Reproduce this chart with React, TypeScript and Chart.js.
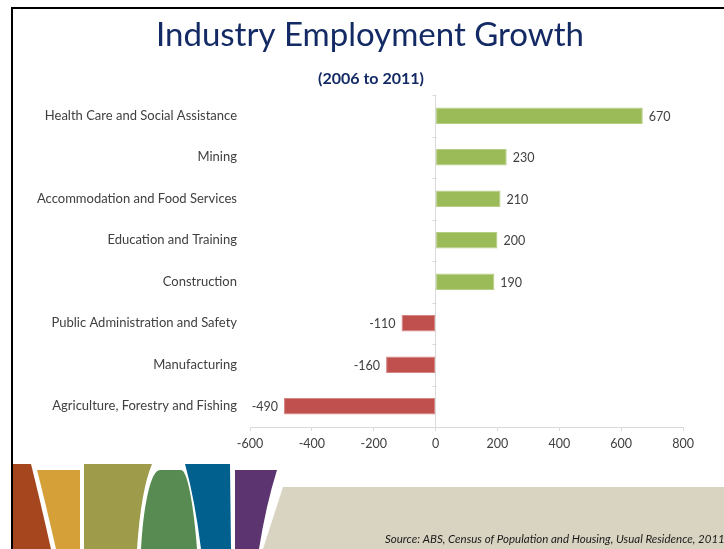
import React, { useEffect, useRef } from "react";
import { Chart, registerables } from "chart.js";

Chart.register(...registerables);

const categories = [
  "Health Care and Social Assistance",
  "Mining",
  "Accommodation and Food Services",
  "Education and Training",
  "Construction",
  "Public Administration and Safety",
  "Manufacturing",
  "Agriculture, Forestry and Fishing",
];
const growth = [670, 230, 210, 200, 190, -110, -160, -490];
const xMin = -600;
const xMax = 800;
const xStep = 200;

const titleText = "Industry Employment Growth";
const subtitleText = "(2006 to 2011)";
const sourceText = "Source: ABS, Census of Population and Housing, Usual Residence, 2011";

const POS = "#9BBB59";
const POS_B = "#B5CD85";
const NEG = "#C0504D";
const NEG_B = "#D48684";
const AXIS = "#D9D9D9";
const TXT = "#404040";
const NAVY = "#132A64";
const FONT = "Lato, 'Open Sans', sans-serif";

function drawDecor(ctx: CanvasRenderingContext2D, W: number, H: number) {
  ctx.save();
  ctx.fillStyle = "#ffffff";
  ctx.fillRect(0, 0, W, H);

  // beige band
  ctx.fillStyle = "#D9D3C1";
  ctx.beginPath();
  ctx.moveTo(283, 487);
  ctx.lineTo(W, 487);
  ctx.lineTo(W, H);
  ctx.lineTo(263, H);
  ctx.closePath();
  ctx.fill();

  // brown
  ctx.fillStyle = "#A5461F";
  ctx.beginPath();
  ctx.moveTo(13, 464);
  ctx.lineTo(31, 464);
  ctx.quadraticCurveTo(40, 500, 51, H);
  ctx.lineTo(13, H);
  ctx.closePath();
  ctx.fill();

  // orange
  ctx.fillStyle = "#D4A037";
  ctx.beginPath();
  ctx.moveTo(37, 470);
  ctx.lineTo(80, 470);
  ctx.lineTo(80, H);
  ctx.lineTo(56, H);
  ctx.quadraticCurveTo(46, 505, 37, 470);
  ctx.closePath();
  ctx.fill();

  // olive
  ctx.fillStyle = "#9E9B4A";
  ctx.beginPath();
  ctx.moveTo(84, 464);
  ctx.lineTo(152, 464);
  ctx.quadraticCurveTo(141, 490, 137, H);
  ctx.lineTo(84, H);
  ctx.closePath();
  ctx.fill();

  // green arch
  ctx.fillStyle = "#578B52";
  ctx.beginPath();
  ctx.moveTo(141, H);
  ctx.bezierCurveTo(143, 510, 150, 470, 160, 470);
  ctx.lineTo(181, 470);
  ctx.bezierCurveTo(188, 470, 194, 510, 197, H);
  ctx.closePath();
  ctx.fill();

  // blue
  ctx.fillStyle = "#02608F";
  ctx.beginPath();
  ctx.moveTo(185, 464);
  ctx.lineTo(230, 464);
  ctx.lineTo(231, H);
  ctx.lineTo(201, H);
  ctx.quadraticCurveTo(195, 500, 185, 464);
  ctx.closePath();
  ctx.fill();

  // purple
  ctx.fillStyle = "#5C3470";
  ctx.beginPath();
  ctx.moveTo(235, 470);
  ctx.lineTo(277, 470);
  ctx.quadraticCurveTo(266, 505, 259, H);
  ctx.lineTo(235, H);
  ctx.closePath();
  ctx.fill();

  // frame
  ctx.fillStyle = "#000000";
  ctx.fillRect(11, 7, W - 11, 2);
  ctx.fillRect(11, 7, 2, H - 7);

  // title
  ctx.fillStyle = NAVY;
  ctx.textAlign = "center";
  ctx.textBaseline = "alphabetic";
  ctx.font = `33px ${FONT}`;
  ctx.fillText(titleText, 370, 46);
  ctx.font = `bold 16px ${FONT}`;
  ctx.fillText(subtitleText, 371, 84);

  // source
  ctx.fillStyle = "#1a1a1a";
  ctx.textAlign = "left";
  ctx.font = `italic 11.5px ${FONT}`;
  ctx.fillText(sourceText, 385, 543);
  ctx.restore();
}

const decorPlugin = {
  id: "decor",
  beforeDraw(chart: any) {
    drawDecor(chart.ctx, chart.width, chart.height);
  },
};

const axisPlugin = {
  id: "zeroAxis",
  afterDraw(chart: any) {
    const ctx = chart.ctx as CanvasRenderingContext2D;
    const xs = chart.scales.x;
    const ys = chart.scales.y;
    const x0 = Math.round(xs.getPixelForValue(0)) + 0.5;
    ctx.save();
    ctx.strokeStyle = AXIS;
    ctx.lineWidth = 1;
    const n = ys.ticks.length;
    for (let i = 0; i <= n; i++) {
      const y = Math.round(ys.top + (i * (ys.bottom - ys.top)) / n) + 0.5;
      ctx.beginPath();
      ctx.moveTo(x0 - 4, y);
      ctx.lineTo(x0, y);
      ctx.stroke();
    }
    ctx.restore();
  },
};

const labelPlugin = {
  id: "valueLabels",
  afterDatasetsDraw(chart: any) {
    const ctx = chart.ctx as CanvasRenderingContext2D;
    const meta = chart.getDatasetMeta(0);
    ctx.save();
    ctx.fillStyle = TXT;
    ctx.font = `12.5px ${FONT}`;
    ctx.textBaseline = "middle";
    meta.data.forEach((bar: any, i: number) => {
      const v = growth[i];
      if (v >= 0) {
        ctx.textAlign = "left";
        ctx.fillText(String(v), bar.x + 6, bar.y + 1);
      } else {
        ctx.textAlign = "right";
        ctx.fillText(String(v), bar.x - 6, bar.y + 1);
      }
    });
    ctx.restore();
  },
};

export default function App() {
  const ref = useRef<HTMLCanvasElement | null>(null);
  useEffect(() => {
    document.body.style.margin = "0";
    const canvas = ref.current;
    if (!canvas) return;
    const chart = new Chart(canvas, {
      type: "bar",
      data: {
        labels: categories,
        datasets: [
          {
            data: growth,
            backgroundColor: growth.map((v) => (v >= 0 ? POS : NEG)),
            borderColor: growth.map((v) => (v >= 0 ? POS_B : NEG_B)),
            borderWidth: 1,
            borderSkipped: false,
            barPercentage: 1,
            categoryPercentage: 0.4,
          },
        ],
      },
      options: {
        indexAxis: "y",
        responsive: false,
        animation: false,
        devicePixelRatio: 1,
        layout: { padding: { left: 0, right: 41, top: 95, bottom: 92 } },
        plugins: {
          legend: { display: false },
          tooltip: { enabled: false },
          title: { display: false },
        },
        scales: {
          x: {
            type: "linear",
            min: xMin,
            max: xMax,
            ticks: {
              stepSize: xStep,
              color: TXT,
              font: { family: FONT, size: 12.5 },
              padding: 5,
            },
            grid: {
              color: (c: any) => (c.tick && c.tick.value === 0 ? AXIS : "rgba(0,0,0,0)"),
              tickColor: AXIS,
              tickLength: 4,
              drawTicks: true,
            },
            border: { display: true, color: AXIS },
            afterFit: (s: any) => {
              s.height = 30;
            },
          },
          y: {
            ticks: {
              color: TXT,
              font: { family: FONT, size: 13 },
              padding: 13,
            },
            grid: { display: false, drawTicks: false },
            border: { display: false },
            afterFit: (s: any) => {
              s.width = 250;
            },
          },
        },
      },
      plugins: [decorPlugin, axisPlugin, labelPlugin],
    } as any);
    return () => chart.destroy();
  }, []);
  return (
    <div style={{ position: "absolute", left: 0, top: 0, width: 724, height: 549 }}>
      <canvas ref={ref} width={724} height={549} style={{ display: "block" }} />
    </div>
  );
}
